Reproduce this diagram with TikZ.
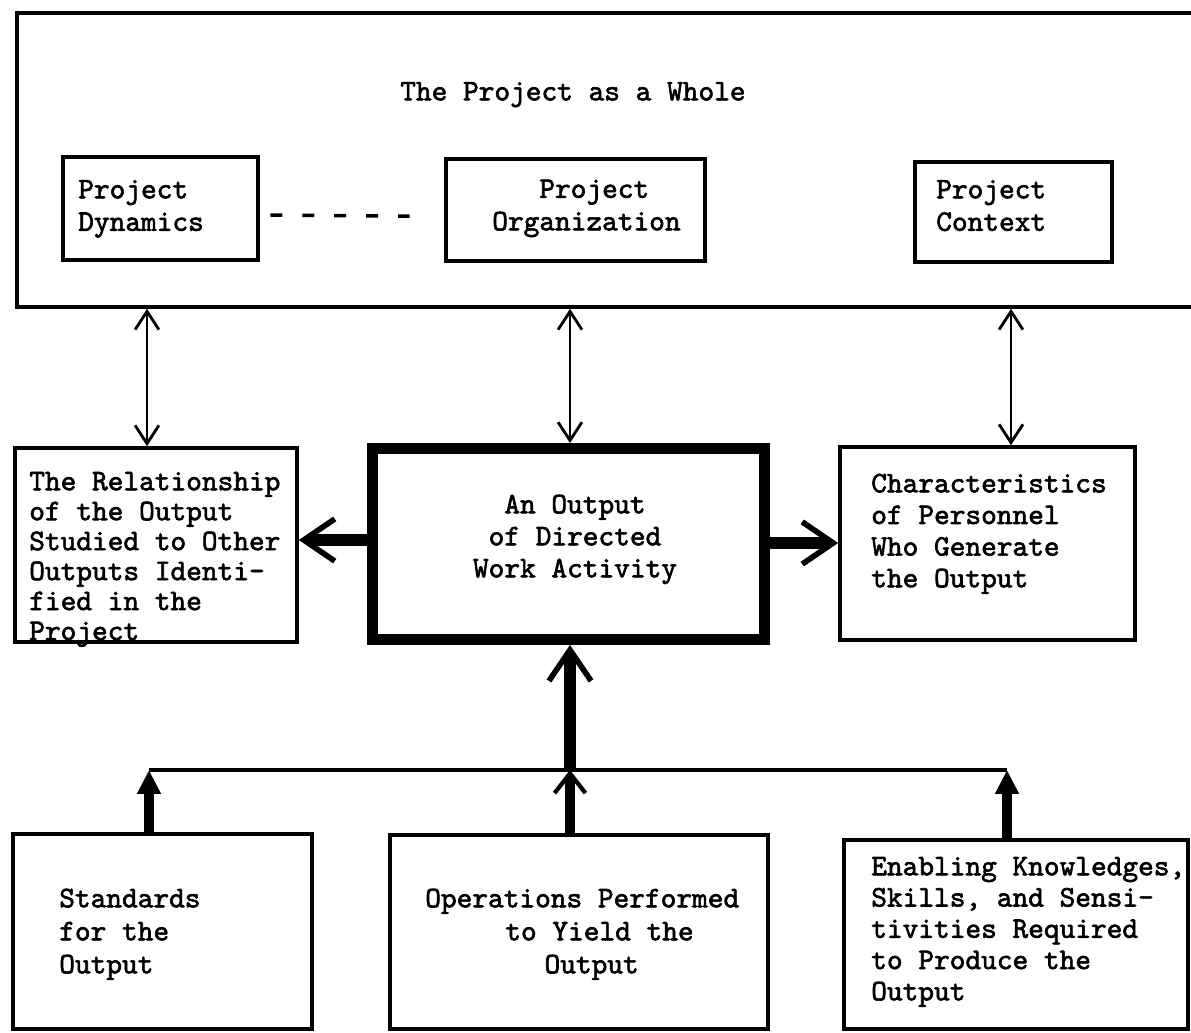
\documentclass[tikz,border=0pt]{standalone}
\usepackage{fontspec}
\newfontfamily\tw{lmmono10-regular.otf}[FakeBold=2]
\usetikzlibrary{arrows.meta,fit}
% indentation measured in character cells of the current (monospaced) font
\newcommand\chsp[1]{\hspace*{#1\fontcharwd\font`\0}}

\begin{document}
\begin{tikzpicture}[x=0.025cm,y=-0.025cm,
  box/.style={draw, line width=2.6pt, inner sep=0pt, outer sep=0.5\pgflinewidth},
  mainbox/.style={draw, line width=7.8pt, inner sep=0pt},
  txt/.style={inner sep=0pt, anchor=north west, align=left,
    font=\tw\fontsize{21.26pt}{#1}\selectfont},
  txt/.default=22.4pt,
  ctxt/.style={txt=#1, anchor=north, align=center},
  biarrow/.style={line width=2pt, >={Straight Barb[length=13pt,width=17pt]}, <->},
  thickarrow/.style={line width=8.5pt, -{Straight Barb[length=22pt,width=30pt,line width=4pt]}},
  smallup/.style={line width=7pt, -{Triangle[length=17pt,width=16pt]}},
  midup/.style={line width=7.5pt, -{Straight Barb[length=14pt,width=22pt,line width=3pt]}},
  bus/.style={line width=2.5pt},
  dashline/.style={line width=2.4pt, dash pattern=on 8.5pt off 14.2pt}
]
\useasboundingbox (0,0) rectangle (1191,1033);
\clip (0,0) rectangle (1191,1033);

% the project as a whole (frame runs past the right margin)
\node[box, fit={(17,13) (1250,307)}] (whole) {};
\node[txt] (ttl) at (400,78) {\strut The Project as a Whole};

\node[box, fit={(63,157) (258,260)}] (dyn) {};
\node[txt=23.1pt] (dynt) at (78,175.3) {\strut Project\\Dynamics};

\node[box, fit={(446,159) (705,261)}] (org) {};
\node[txt=23.1pt] (orgt) at (492,174.8) {\strut\chsp{3}Project\\Organization};

\node[box, fit={(915,162) (1112,262)}] (ctx) {};
\node[txt=23.1pt] (ctxt) at (936,175.3) {\strut Project\\Context};

\draw[dashline, shorten <=7.5pt, shorten >=24.6pt]
  ([yshift=-4.6pt]dyn.east) -- ([yshift=-4.6pt]org.west);

% middle row
\node[box, fit={(15,448) (297,642)}] (rel) {};
\node[txt=21.3pt] (relt) at (29,469) {\strut The Relationship\\of the Output\\Studied to Other\\Outputs Identi-\\fied in the\\Project};

\node[mainbox, fit={(372.5,448.5) (764.5,639.5)}] (out) {};
\node[ctxt=22.76pt] (outt) at (575,490.6) {\strut An Output\\of Directed\\Work Activity};

\node[box, fit={(840,447) (1135,640)}] (chr) {};
\node[txt=22.5pt] (chrt) at (871,469.9) {\strut Characteristics\\of Personnel\\Who Generate\\the Output};

% bottom row
\node[box, fit={(13,834) (312,1029)}] (std) {};
\node[txt=23.47pt] (stdt) at (59,883.9) {\strut Standards\\for the\\Output};

\node[box, fit={(390,835) (768,1029)}] (ops) {};
\node[txt=23.47pt] (opst) at (425,883.9) {\strut Operations Performed\\\chsp{5.1}to Yield the\\\chsp{7.6}Output};

\node[box, fit={(844,840) (1188,1029)}] (ena) {};
\node[txt=22.23pt] (enat) at (871,853.1) {\strut Enabling Knowledges,\\Skills, and Sensi-\\tivities Required\\to Produce the\\Output};

% links to the project as a whole
\coordinate (a1) at (147,0);
\coordinate (a2) at (570,0);
\coordinate (a3) at (1011,0);
\draw[biarrow] (a1 |- whole.south) -- (a1 |- rel.north);
\draw[biarrow] (a2 |- whole.south) -- (a2 |- out.north);
\draw[biarrow] (a3 |- whole.south) -- (a3 |- chr.north);

% outputs to the side boxes
\coordinate (h1) at (0,540);
\coordinate (h2) at (0,543);
\draw[thickarrow] (h1 -| out.west) -- (h1 -| rel.east);
\draw[thickarrow] (h2 -| out.east) -- (h2 -| chr.west);

% inputs from the bottom row
\coordinate (b1) at (149,770);
\coordinate (b2) at (570,770);
\coordinate (b3) at (1007,770);
\draw[bus] (b1) -- (b3);
\draw[smallup] (b1 |- std.north) -- (b1);
\draw[midup] (b2 |- ops.north) -- (b2);
\draw[smallup] (b3 |- ena.north) -- (b3);
\draw[thickarrow] (b2) -- (b2 |- out.south);
\end{tikzpicture}
\end{document}
